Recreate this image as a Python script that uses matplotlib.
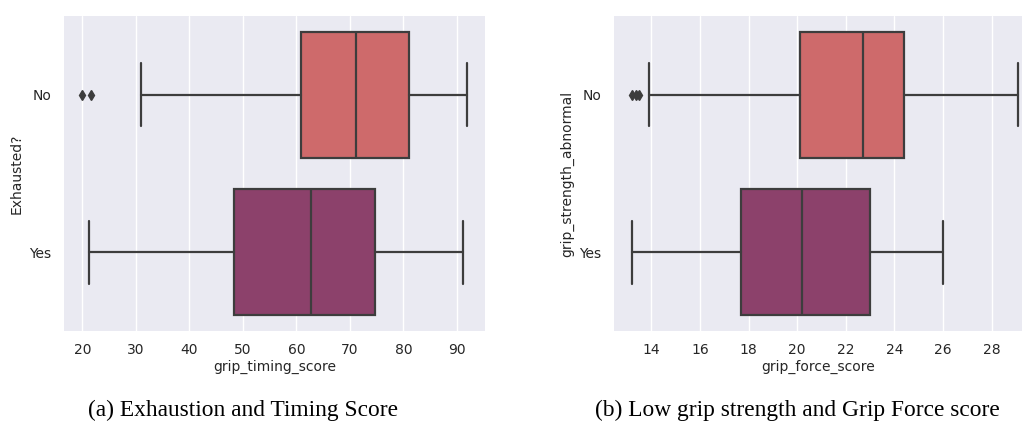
import matplotlib
matplotlib.use("Agg")
import matplotlib.pyplot as plt
import seaborn as sns

sns.set_theme(style="darkgrid")
plt.rcParams["font.family"] = ["DejaVu Sans"]

# Group labels on the y axis
groups = ["No", "Yes"]

# (a) grip_timing_score by "Exhausted?" : whisker-low, Q1, median, Q3, whisker-high
timing_whislo = [31.0, 21.3]
timing_q1 = [60.8, 48.3]
timing_med = [71.2, 62.7]
timing_q3 = [81.0, 74.7]
timing_whishi = [91.8, 91.1]
timing_fliers = [[20.0, 21.6], []]

# (b) grip_force_score by grip_strength_abnormal
force_whislo = [13.9, 13.2]
force_q1 = [20.1, 17.7]
force_med = [22.7, 20.2]
force_q3 = [24.4, 23.0]
force_whishi = [29.1, 26.0]
force_fliers = [[13.2, 13.35, 13.5], []]

box_colors = ["#CE6A6B", "#8C416B"]
edge = "#3d3d3d"

W, H, DPI = 1022, 421, 100
fig = plt.figure(figsize=(W / DPI, H / DPI), dpi=DPI)


def px_axes(x0, x1, y0, y1):
    return fig.add_axes([x0 / W, 1 - y1 / H, (x1 - x0) / W, (y1 - y0) / H])


def draw(ax, whislo, q1, med, q3, whishi, fliers, xlabel, ylabel, xlim, xticks):
    stats = []
    for i, g in enumerate(groups):
        stats.append(dict(label=g, whislo=whislo[i], q1=q1[i], med=med[i],
                          q3=q3[i], whishi=whishi[i], fliers=fliers[i]))
    lw = 1.6
    res = ax.bxp(stats, positions=[0, 1], widths=0.8, vert=False,
                 patch_artist=True, capwidths=0.4,
                 boxprops=dict(edgecolor=edge, linewidth=lw),
                 medianprops=dict(color=edge, linewidth=lw),
                 whiskerprops=dict(color=edge, linewidth=lw),
                 capprops=dict(color=edge, linewidth=lw),
                 flierprops=dict(marker="d", markerfacecolor=edge,
                                 markeredgecolor=edge, markersize=5.5))
    for patch, c in zip(res["boxes"], box_colors):
        patch.set_facecolor(c)
    ax.set_ylim(1.5, -0.5)
    ax.set_xlim(*xlim)
    ax.set_xticks(xticks)
    ax.set_yticks([0, 1])
    ax.set_yticklabels(groups)
    ax.grid(axis="y", visible=False)
    ax.grid(axis="x", color="white", linewidth=1.0)
    ax.tick_params(axis="both", length=0, pad=9, labelsize=10, colors="#262626")
    ax.set_xlabel(xlabel, fontsize=10, labelpad=1.5, color="#262626")
    ax.set_ylabel(ylabel, fontsize=10, color="#262626")
    for s in ax.spines.values():
        s.set_visible(False)


ax1 = px_axes(64, 485, 16, 331)
draw(ax1, timing_whislo, timing_q1, timing_med, timing_q3, timing_whishi,
     timing_fliers, "grip_timing_score", "Exhausted?",
     (16.58, 95.23), [20, 30, 40, 50, 60, 70, 80, 90])
ax1.yaxis.set_label_coords(-0.095, 0.5)

ax2 = px_axes(614, 1022, 16, 331)
draw(ax2, force_whislo, force_q1, force_med, force_q3, force_whishi,
     force_fliers, "grip_force_score", "grip_strength_abnormal",
     (12.46, 29.25), [14, 16, 18, 20, 22, 24, 26, 28])
ax2.yaxis.set_label_coords(-0.098, 0.5)

cap_font = dict(family=["Liberation Serif", "DejaVu Serif"], fontsize=16.8,
                color="black", ha="center", va="baseline")
fig.text(242.5 / W, 1 - 416 / H, "(a) Exhaustion and Timing Score", **cap_font)
fig.text(797.5 / W, 1 - 416 / H, "(b) Low grip strength and Grip Force score", **cap_font)

fig.savefig("out.png", dpi=DPI)
